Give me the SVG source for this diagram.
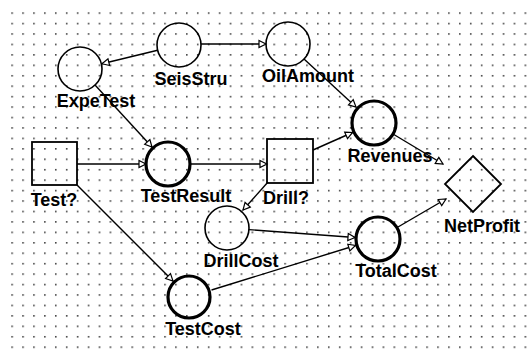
<svg xmlns="http://www.w3.org/2000/svg" width="531" height="351" viewBox="0 0 531 351">
<defs>
<pattern id="grid" patternUnits="userSpaceOnUse" x="11.3" y="12.3" width="10.92" height="10.44">
<rect x="0" y="0" width="1.6" height="1.6" fill="#444"/>
</pattern>
<marker id="arr" markerUnits="userSpaceOnUse" markerWidth="10" markerHeight="10" refX="7" refY="3.5" orient="auto" overflow="visible">
<path d="M0,0 L7,3.5 L0,7 z" fill="#fff" stroke="#000" stroke-width="1.2"/>
</marker>
</defs>
<style>
.thin{fill:none;stroke:#000;stroke-width:1.6}
.thick{fill:none;stroke:#000;stroke-width:3.2}
.box{fill:none;stroke:#000;stroke-width:1.8}
.lbl{font-family:"Liberation Sans",Arial,sans-serif;font-weight:bold;font-size:18px;fill:#000;text-anchor:middle}
.edge{stroke:#000;stroke-width:1.4;fill:none;marker-end:url(#arr)}
</style>
<rect x="0" y="0" width="531" height="351" fill="#fff"/>
<rect x="8" y="8" width="523" height="343" fill="url(#grid)"/>

<g id="connectors">
<line class="edge" x1="157.6" y1="50.2" x2="102" y2="63.8"/>
<line class="edge" x1="201" y1="44" x2="266" y2="44"/>
<line class="edge" x1="95" y1="85" x2="152" y2="147"/>
<line class="edge" x1="77" y1="164" x2="146" y2="164"/>
<line class="edge" x1="77" y1="185" x2="173" y2="281"/>
<line class="edge" x1="190" y1="164" x2="267" y2="164"/>
<line class="edge" x1="304" y1="59" x2="356" y2="107"/>
<line class="edge" x1="313" y1="150" x2="352.5" y2="132.5"/>
<line class="edge" x1="393" y1="134" x2="443" y2="164"/>
<line class="edge" x1="268" y1="182" x2="243" y2="210"/>
<line class="edge" x1="249" y1="229.6" x2="355" y2="237.5"/>
<line class="edge" x1="211.5" y1="290" x2="355.5" y2="245.5"/>
<line class="edge" x1="398" y1="227" x2="446" y2="199"/>
</g>

<g id="SeisStru"><circle class="thin" cx="179" cy="45" r="22"/><text class="lbl" x="191" y="85">SeisStru</text></g>
<g id="ExpeTest"><circle class="thin" cx="80" cy="69" r="22"/><text class="lbl" x="96" y="107">ExpeTest</text></g>
<g id="OilAmount"><circle class="thin" cx="288" cy="44" r="22"/><text class="lbl" x="308" y="82">OilAmount</text></g>
<g id="Revenues"><circle class="thick" cx="374" cy="123" r="22"/><text class="lbl" x="390" y="162">Revenues</text></g>
<g id="NetProfit"><polygon class="box" points="473,156 501,184 473,212 445,184"/><text class="lbl" x="482" y="232">NetProfit</text></g>
<g id="Test"><rect class="box" x="32" y="142" width="45" height="43"/><text class="lbl" x="54" y="206">Test?</text></g>
<g id="TestResult"><circle class="thick" cx="168" cy="164" r="22"/><text class="lbl" x="186" y="202">TestResult</text></g>
<g id="Drill"><rect class="box" x="267" y="139" width="46" height="44"/><text class="lbl" x="286" y="204">Drill?</text></g>
<g id="DrillCost"><circle class="thin" cx="227" cy="228" r="22"/><text class="lbl" x="241" y="267">DrillCost</text></g>
<g id="TotalCost"><circle class="thick" cx="378" cy="239" r="22"/><text class="lbl" x="396" y="277">TotalCost</text></g>
<g id="TestCost"><circle class="thick" cx="189" cy="297" r="21"/><text class="lbl" x="203" y="335">TestCost</text></g>
</svg>
